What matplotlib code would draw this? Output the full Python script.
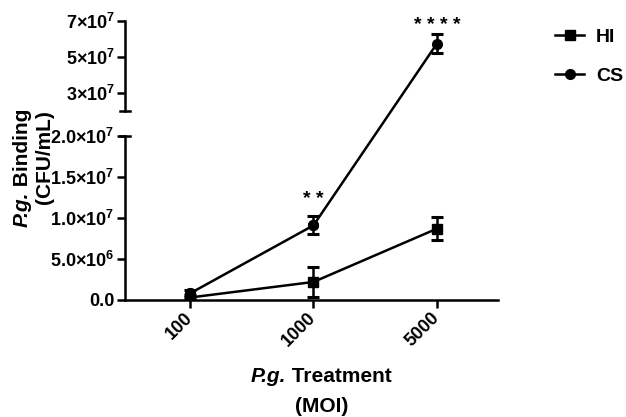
import matplotlib
matplotlib.use('Agg')
import matplotlib.pyplot as plt
from matplotlib.lines import Line2D
import matplotlib.transforms as mtransforms

# --- data ---
moi = ['100', '1000', '5000']
hi_mean = [0.3e6, 2.2e6, 8.7e6]
hi_err = [0.3e6, 1.8e6, 1.4e6]
cs_mean = [0.8e6, 9.1e6, 5.75e7]
cs_err = [0.4e6, 1.1e6, 0.55e7]

low_ticks = [0, 5e6, 1e7, 1.5e7, 2e7]
low_labels = ['0.0', '5.0×10$^{6}$', '1.0×10$^{7}$', '1.5×10$^{7}$', '2.0×10$^{7}$']
up_ticks = [3e7, 5e7, 7e7]
up_labels = ['3×10$^{7}$', '5×10$^{7}$', '7×10$^{7}$']

# significance marks (x index, y baseline, text)
stars = [(1, 1.17e7, '* *'), (2, 6.52e7, '* * * *')]

# --- fonts ---
plt.rcParams['font.family'] = ['Liberation Sans', 'DejaVu Sans']
plt.rcParams['font.weight'] = 'bold'
plt.rcParams['mathtext.fontset'] = 'custom'
plt.rcParams['mathtext.rm'] = 'Liberation Sans:bold'
plt.rcParams['mathtext.bf'] = 'Liberation Sans:bold'
plt.rcParams['mathtext.default'] = 'bf'

LW = 1.8
TICK_FS = 13
x = list(range(len(moi)))

fig = plt.figure(figsize=(6.26, 4.17), dpi=100)
ax_low = fig.add_axes([0.1997, 0.2806, 0.5958, 0.3933])
ax_up = fig.add_axes([0.1997, 0.7338, 0.5958, 0.2158])

ebkw = dict(color='black', lw=LW, elinewidth=LW, capsize=4.5, capthick=2.2, ms=7)

# HI series (all in lower panel)
hi = ax_low.errorbar(x, hi_mean, yerr=hi_err, fmt='-s', **ebkw)

# CS series: markers in both panels, line below the break drawn in lower panel
ax_low.errorbar(x, cs_mean, yerr=cs_err, fmt='o', **ebkw)
ax_up.errorbar(x, cs_mean, yerr=cs_err, fmt='o', **ebkw)
cs_line, = ax_low.plot(x[:2], cs_mean[:2], '-o', color='black', lw=LW, ms=7)

for ax in (ax_low, ax_up):
    ax.set_xlim(-0.526, 2.494)
    for s in ('top', 'right'):
        ax.spines[s].set_visible(False)
    ax.spines['left'].set_linewidth(LW)
    ax.tick_params(axis='y', width=LW, length=6, labelsize=TICK_FS, pad=1.5)

ax_low.set_ylim(0, 2e7)
ax_up.set_ylim(2e7, 7e7)
ax_low.spines['bottom'].set_linewidth(LW)
ax_up.spines['bottom'].set_visible(False)
ax_up.set_xticks([])

ax_low.set_yticks(low_ticks, low_labels)
ax_up.set_yticks(up_ticks, up_labels)
ax_low.set_xticks(x, moi)
ax_low.tick_params(axis='x', width=LW, length=6, labelsize=TICK_FS, pad=5)
for lbl in ax_low.get_xticklabels():
    lbl.set_rotation(45)
    lbl.set_ha('right')
    lbl.set_va('center')
    lbl.set_rotation_mode('anchor')

# break caps on both sides of the left spine
for ax, yv in ((ax_up, 2e7), (ax_low, 2e7)):
    tr = mtransforms.blended_transform_factory(ax.transAxes, ax.transData)
    ax.plot([-0.014, 0.014], [yv, yv], color='black', lw=LW, transform=tr, clip_on=False)

# CS segment spanning the axis break
p0 = ax_low.transData.transform((x[1], cs_mean[1]))
p1 = ax_up.transData.transform((x[2], cs_mean[2]))
inv = fig.transFigure.inverted()
f0, f1 = inv.transform(p0), inv.transform(p1)
fig.add_artist(Line2D([f0[0], f1[0]], [f0[1], f1[1]], color='black', lw=LW,
                      transform=fig.transFigure))

# significance stars
for xi, yv, txt in stars:
    ax = ax_up if yv > 2e7 else ax_low
    ax.text(xi, yv, txt, ha='center', va='baseline', fontsize=14,
            fontweight='bold', clip_on=False)

# axis titles: italic species name followed by upright text
t1 = fig.text(0.036, 0.455, 'P.g.', rotation=90, ha='center', va='bottom',
              fontsize=15, fontweight='bold', fontstyle='italic')
fig.add_artist(plt.Annotation(' Binding', xy=(0.5, 1), xycoords=t1,
                              rotation=90, ha='center', va='bottom',
                              fontsize=15, fontweight='bold'))
fig.text(0.0715, 0.6235, '(CFU/mL)', rotation=90,
         ha='center', va='center', fontsize=15, fontweight='bold')

t2 = fig.text(0.4010, 0.084, 'P.g.', ha='left', va='baseline',
              fontsize=15, fontweight='bold', fontstyle='italic')
fig.add_artist(plt.Annotation(' Treatment', xy=(1, 0), xycoords=t2,
                              ha='left', va='bottom',
                              fontsize=15, fontweight='bold'))
fig.text(0.514, 0.012, '(MOI)', ha='center', va='baseline',
         fontsize=15, fontweight='bold')

# legend
fig.legend([hi.lines[0], cs_line], ['HI', 'CS'], loc='upper left',
           bbox_to_anchor=(0.887, 0.932), frameon=False,
           handlelength=1.5, handletextpad=0.6, labelspacing=1.1,
           borderpad=0, borderaxespad=0, prop={'weight': 'bold', 'size': 14})

fig.savefig('out.png', dpi=100)
